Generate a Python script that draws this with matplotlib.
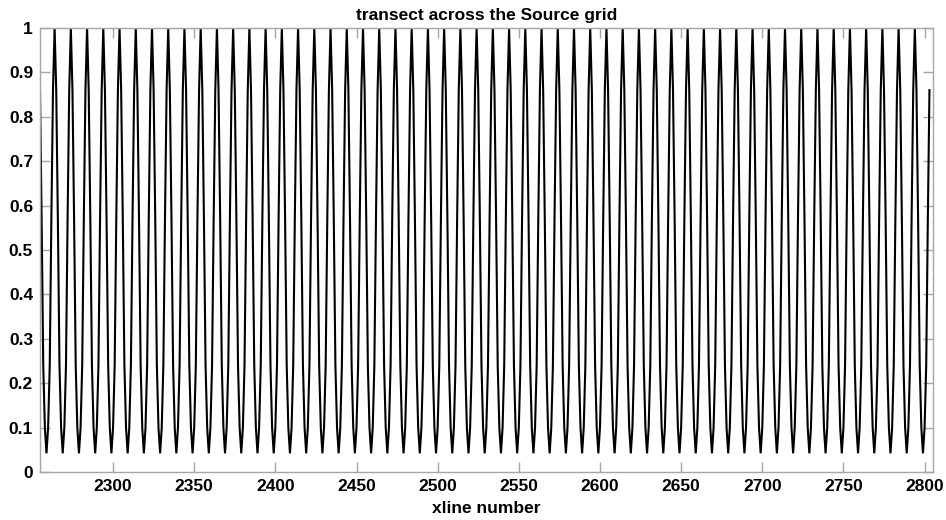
import numpy as np
import matplotlib
matplotlib.use("Agg")
import matplotlib.pyplot as plt

# data
x_start = 2255            # first xline sample
x_end = 2803              # last xline sample
# one 10-xline cycle, starting 4 xlines before a trough (value at each integer xline)
cycle_values = [0.86, 0.57, 0.24, 0.10, 0.042, 0.10, 0.24, 0.57, 0.86, 1.0]
x_ticks = [2300, 2350, 2400, 2450, 2500, 2550, 2600, 2650, 2700, 2750, 2800]
y_ticks = [0, 0.1, 0.2, 0.3, 0.4, 0.5, 0.6, 0.7, 0.8, 0.9, 1]
y_tick_labels = ["0", "0.1", "0.2", "0.3", "0.4", "0.5", "0.6", "0.7", "0.8", "0.9", "1"]
title_text = "transect across the Source grid"
xlabel_text = "xline number"

xline = np.arange(x_start, x_end + 1)
n_cycles = int(np.ceil(len(xline) / len(cycle_values)))
values = np.tile(cycle_values, n_cycles)[:len(xline)]

plt.rcParams['font.family'] = ['Liberation Sans', 'DejaVu Sans']

fig = plt.figure(figsize=(9.46, 5.2), dpi=100)
ax = fig.add_axes([40/946, 1 - 472/520, (932.7 - 40)/946, (472 - 28)/520])

ax.plot(xline, values, color='black', lw=1.5, solid_joinstyle='miter')

ax.set_xlim(2255, 2805)
ax.set_ylim(0, 1)
ax.set_xticks(x_ticks)
ax.set_yticks(y_ticks)
ax.set_yticklabels(y_tick_labels)

fs = 12.5
frame_col = '#a6a6a6'
for s in ax.spines.values():
    s.set_color(frame_col)
    s.set_linewidth(1.0)
ax.tick_params(axis='both', direction='in', length=7, width=1.0, color=frame_col,
               labelsize=fs, labelcolor='black', top=True, right=True, pad=5)
for lab in ax.get_xticklabels() + ax.get_yticklabels():
    lab.set_fontweight('bold')

ax.set_title(title_text, fontsize=fs, fontweight='bold', pad=6)
ax.set_xlabel(xlabel_text, fontsize=fs, fontweight='bold', labelpad=5)

fig.savefig("out.png", dpi=100)
